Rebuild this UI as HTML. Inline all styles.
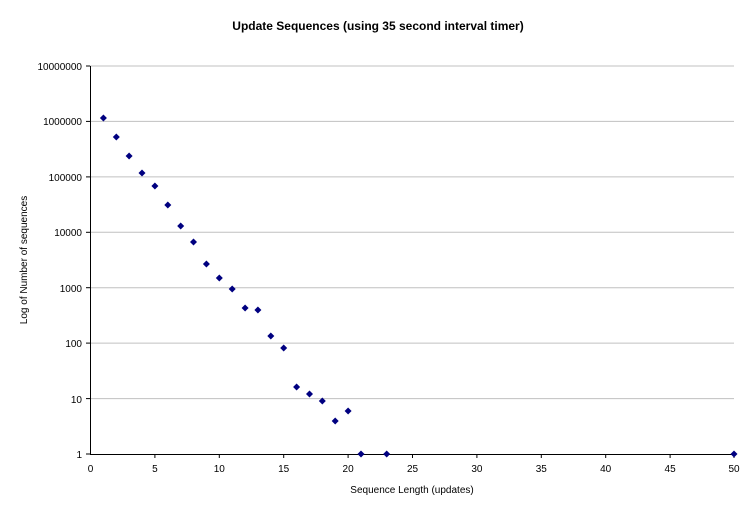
<!DOCTYPE html>
<html><head><style>body{margin:0;background:#fff}</style></head><body>
<svg width="756" height="512" xmlns="http://www.w3.org/2000/svg" font-family="Liberation Sans, Arial, sans-serif">
<rect width="756" height="512" fill="#fff"/>
<text x="378" y="30" text-anchor="middle" font-size="12" font-weight="bold">Update Sequences (using 35 second interval timer)</text>
<g stroke="#c0c0c0" stroke-width="1">
<line x1="90" y1="66" x2="734" y2="66"/>
<line x1="90" y1="121.4" x2="734" y2="121.4"/>
<line x1="90" y1="176.9" x2="734" y2="176.9"/>
<line x1="90" y1="232.3" x2="734" y2="232.3"/>
<line x1="90" y1="287.7" x2="734" y2="287.7"/>
<line x1="90" y1="343.1" x2="734" y2="343.1"/>
<line x1="90" y1="398.6" x2="734" y2="398.6"/>
</g>
<g stroke="#000" stroke-width="1">
<line x1="90.5" y1="66" x2="90.5" y2="454"/>
<line x1="90" y1="454.5" x2="734" y2="454.5"/>
<line x1="86" y1="66" x2="90" y2="66"/><line x1="86" y1="121.4" x2="90" y2="121.4"/><line x1="86" y1="176.9" x2="90" y2="176.9"/><line x1="86" y1="232.3" x2="90" y2="232.3"/><line x1="86" y1="287.7" x2="90" y2="287.7"/><line x1="86" y1="343.1" x2="90" y2="343.1"/><line x1="86" y1="398.6" x2="90" y2="398.6"/><line x1="86" y1="454" x2="90" y2="454"/>
<line x1="154.9" y1="454" x2="154.9" y2="458"/><line x1="219.3" y1="454" x2="219.3" y2="458"/><line x1="283.7" y1="454" x2="283.7" y2="458"/><line x1="348.1" y1="454" x2="348.1" y2="458"/><line x1="412.5" y1="454" x2="412.5" y2="458"/><line x1="476.9" y1="454" x2="476.9" y2="458"/><line x1="541.3" y1="454" x2="541.3" y2="458"/><line x1="605.7" y1="454" x2="605.7" y2="458"/><line x1="670.1" y1="454" x2="670.1" y2="458"/><line x1="734" y1="454" x2="734" y2="458"/>
</g>
<g font-size="10" text-anchor="end">
<text x="82" y="70">10000000</text><text x="82" y="125">1000000</text><text x="82" y="181">100000</text><text x="82" y="236">10000</text><text x="82" y="292">1000</text><text x="82" y="347">100</text><text x="82" y="403">10</text><text x="82" y="458">1</text>
</g>
<g font-size="10" text-anchor="middle">
<text x="90.5" y="472">0</text><text x="154.9" y="472">5</text><text x="219.3" y="472">10</text><text x="283.7" y="472">15</text><text x="348.1" y="472">20</text><text x="412.5" y="472">25</text><text x="476.9" y="472">30</text><text x="541.3" y="472">35</text><text x="605.7" y="472">40</text><text x="670.1" y="472">45</text><text x="734" y="472">50</text>
<text x="412" y="493">Sequence Length (updates)</text>
<text transform="translate(27,260) rotate(-90)">Log of Number of sequences</text>
</g>
<g fill="#000080">
<script></script>
<path d="M103.4 114.5l3.5 3.5-3.5 3.5-3.5-3.5z"/>
<path d="M116.3 133.5l3.5 3.5-3.5 3.5-3.5-3.5z"/>
<path d="M129.1 152.5l3.5 3.5-3.5 3.5-3.5-3.5z"/>
<path d="M142 169.5l3.5 3.5-3.5 3.5-3.5-3.5z"/>
<path d="M154.9 182.5l3.5 3.5-3.5 3.5-3.5-3.5z"/>
<path d="M167.8 201.5l3.5 3.5-3.5 3.5-3.5-3.5z"/>
<path d="M180.7 222.5l3.5 3.5-3.5 3.5-3.5-3.5z"/>
<path d="M193.5 238.5l3.5 3.5-3.5 3.5-3.5-3.5z"/>
<path d="M206.4 260.5l3.5 3.5-3.5 3.5-3.5-3.5z"/>
<path d="M219.3 274.5l3.5 3.5-3.5 3.5-3.5-3.5z"/>
<path d="M232.2 285.5l3.5 3.5-3.5 3.5-3.5-3.5z"/>
<path d="M245.1 304.5l3.5 3.5-3.5 3.5-3.5-3.5z"/>
<path d="M257.9 306.5l3.5 3.5-3.5 3.5-3.5-3.5z"/>
<path d="M270.8 332.5l3.5 3.5-3.5 3.5-3.5-3.5z"/>
<path d="M283.7 344.5l3.5 3.5-3.5 3.5-3.5-3.5z"/>
<path d="M296.6 383.5l3.5 3.5-3.5 3.5-3.5-3.5z"/>
<path d="M309.5 390.5l3.5 3.5-3.5 3.5-3.5-3.5z"/>
<path d="M322.3 397.5l3.5 3.5-3.5 3.5-3.5-3.5z"/>
<path d="M335.2 417.5l3.5 3.5-3.5 3.5-3.5-3.5z"/>
<path d="M348.1 407.5l3.5 3.5-3.5 3.5-3.5-3.5z"/>
<path d="M361 450.5l3.5 3.5-3.5 3.5-3.5-3.5z"/>
<path d="M386.7 450.5l3.5 3.5-3.5 3.5-3.5-3.5z"/>
<path d="M734 450.5l3.5 3.5-3.5 3.5-3.5-3.5z"/>
</g>
</svg>
</body></html>
